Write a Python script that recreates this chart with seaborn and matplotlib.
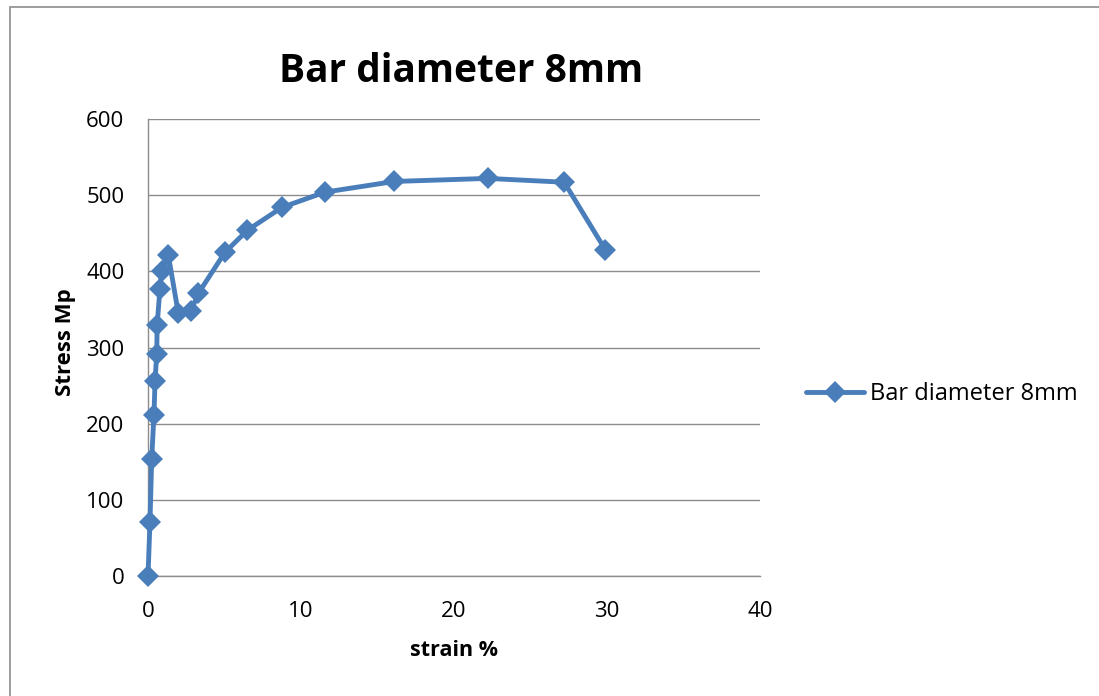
import matplotlib
matplotlib.use("Agg")
import matplotlib.pyplot as plt
import seaborn as sns
import pandas as pd
from matplotlib.patches import Rectangle

strain = [0, 0.13, 0.24, 0.39, 0.46, 0.57, 0.6, 0.78, 0.9, 1.33, 1.98, 2.8, 3.29,
          5.03, 6.5, 8.76, 11.57, 16.1, 22.2, 27.2, 29.9]
stress = [0, 71, 153, 212, 256, 292, 330, 377, 401, 421, 345, 348, 371,
          425, 454, 484, 504, 518, 522, 517, 428]
series_name = "Bar diameter 8mm"
x_ticks = [0, 10, 20, 30, 40]
y_ticks = [0, 100, 200, 300, 400, 500, 600]

df = pd.DataFrame({"strain %": strain, "Stress Mp": stress, "series": series_name})

sns.set_theme(style="white")
plt.rcParams['font.family'] = ['Open Sans', 'DejaVu Sans']
plt.rcParams['text.color'] = 'black'
plt.rcParams['axes.labelcolor'] = 'black'
plt.rcParams['xtick.color'] = 'black'
plt.rcParams['ytick.color'] = 'black'

fig = plt.figure(figsize=(10.99, 6.96), dpi=100)
ax = fig.add_axes([148/1099, 1-576/696, (760-148)/1099, (576-119)/696])

sns.lineplot(data=df, x="strain %", y="Stress Mp", hue="series", palette=["#4A7EBB"],
             sort=False, marker="D", markersize=11.5, linewidth=3.5, markeredgewidth=0,
             ax=ax, clip_on=False, zorder=5)

ax.set_xlim(0, 40)
ax.set_ylim(0, 600)
ax.set_xticks(x_ticks)
ax.set_yticks(y_ticks)
ax.yaxis.grid(True, color="#8C8C8C", linewidth=1)
ax.xaxis.grid(False)
ax.set_axisbelow(True)
for s in ["top", "right"]:
    ax.spines[s].set_visible(False)
for s in ["left", "bottom"]:
    ax.spines[s].set_color("#8C8C8C")
    ax.spines[s].set_linewidth(1)
ax.tick_params(axis="both", labelsize=16, length=0)
ax.tick_params(axis="x", pad=18)
ax.tick_params(axis="y", pad=17)

ax.set_xlabel("strain %", fontsize=15.5, fontweight="bold")
ax.set_ylabel("Stress Mp", fontsize=16, fontweight="bold")
ax.xaxis.set_label_coords((454-148)/612, (576-651)/457)
ax.xaxis.label.set_verticalalignment("center")
ax.yaxis.set_label_coords((66-148)/612, (576-342)/457)
ax.yaxis.label.set_verticalalignment("center")

fig.text(461/1099, 1-82/696, "Bar diameter 8mm", fontsize=28, fontweight="bold",
         ha="center", va="baseline")

leg = ax.legend(loc="center left", bbox_to_anchor=(806/1099, 1-394/696),
                bbox_transform=fig.transFigure, frameon=False, fontsize=17,
                handlelength=2.45, borderpad=0, handletextpad=0.25, borderaxespad=0)

fig.patches.append(Rectangle((10/1099, -0.2), 1.2, 1.2-7/696, transform=fig.transFigure,
                             fill=False, edgecolor="#8C8C8C", linewidth=1.2))

fig.savefig("out.png", dpi=100)
